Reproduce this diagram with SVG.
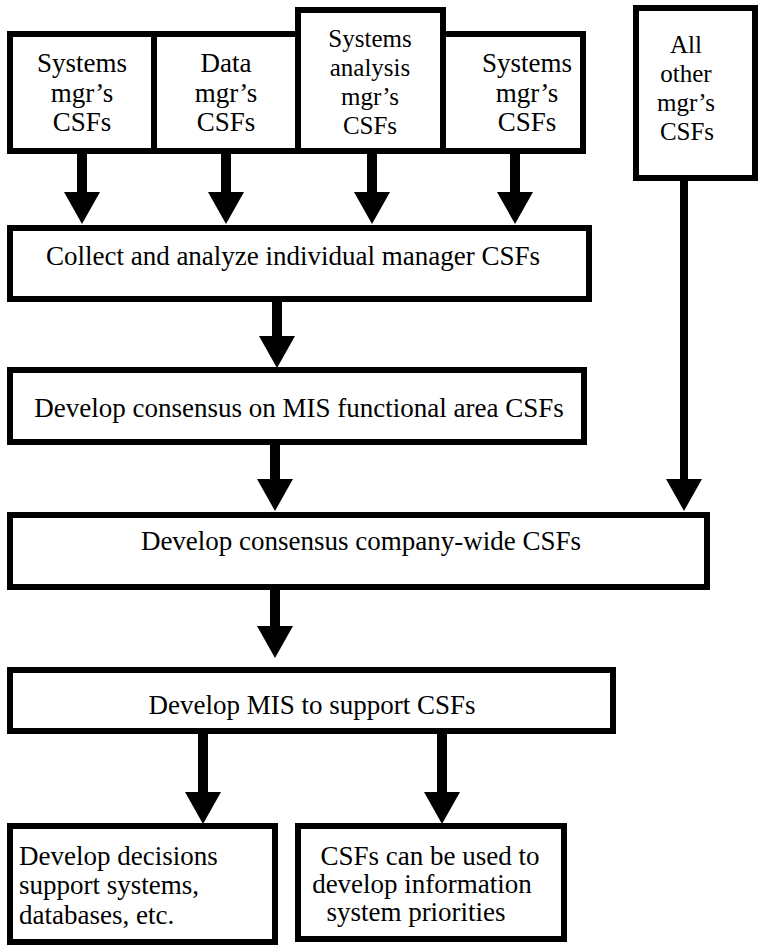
<svg xmlns="http://www.w3.org/2000/svg" width="758" height="946" viewBox="0 0 758 946">
  <style>
    .box { fill: #ffffff; stroke: #000000; stroke-width: 6; }
    .lbl { font-family: "Liberation Serif", "Times New Roman", serif; font-size: 27px; fill: #000000; }
    .tight { font-size: 25px; }
    .mid { text-anchor: middle; }
    .shaft { stroke: #000000; stroke-width: 10; fill: none; }
    .thin { stroke-width: 8; }
  </style>
  <defs>
    <!-- filled triangular head; the shaft stops at the head's base -->
    <marker id="head" markerUnits="userSpaceOnUse" viewBox="0 0 32 36" markerWidth="32" markerHeight="36" refX="0" refY="18" orient="auto">
      <path d="M0,0 L32,18 L0,36 Z" fill="#000000"/>
    </marker>
  </defs>
  <rect width="758" height="946" fill="#ffffff"/>

  <!-- top row: managers' CSFs -->
  <g id="systems-mgr-1">
    <rect class="box" x="10" y="34" width="144" height="117"/>
    <text class="lbl mid" x="82" y="72">Systems</text>
    <text class="lbl mid" x="82" y="102">mgr’s</text>
    <text class="lbl mid" x="82" y="131">CSFs</text>
  </g>
  <g id="data-mgr">
    <rect class="box" x="154" y="34" width="144" height="117"/>
    <text class="lbl mid" x="226" y="72">Data</text>
    <text class="lbl mid" x="226" y="102">mgr’s</text>
    <text class="lbl mid" x="226" y="131">CSFs</text>
  </g>
  <g id="systems-analysis-mgr">
    <rect class="box" x="298" y="10" width="145" height="141"/>
    <text class="lbl tight mid" x="370" y="47">Systems</text>
    <text class="lbl tight mid" x="370" y="76">analysis</text>
    <text class="lbl tight mid" x="370" y="105">mgr’s</text>
    <text class="lbl tight mid" x="370" y="134">CSFs</text>
  </g>
  <g id="systems-mgr-2">
    <rect class="box" x="443" y="34" width="140" height="117"/>
    <text class="lbl mid" x="527" y="72">Systems</text>
    <text class="lbl mid" x="527" y="102">mgr’s</text>
    <text class="lbl mid" x="527" y="131">CSFs</text>
  </g>
  <g id="other-mgrs">
    <rect class="box" x="636" y="8" width="119" height="170"/>
    <text class="lbl tight mid" x="686" y="53">All</text>
    <text class="lbl tight mid" x="686" y="82">other</text>
    <text class="lbl tight mid" x="686" y="111">mgr’s</text>
    <text class="lbl tight mid" x="687" y="140">CSFs</text>
  </g>

  <!-- process steps -->
  <g id="collect">
    <rect class="box" x="10" y="228" width="579" height="71"/>
    <text class="lbl mid" x="293" y="265">Collect and analyze individual manager CSFs</text>
  </g>
  <g id="mis-area">
    <rect class="box" x="10" y="370" width="574" height="72"/>
    <text class="lbl mid" x="299" y="417">Develop consensus on MIS functional area CSFs</text>
  </g>
  <g id="company-wide">
    <rect class="box" x="10" y="515" width="697" height="72"/>
    <text class="lbl mid" x="361" y="550">Develop consensus company-wide CSFs</text>
  </g>
  <g id="develop-mis">
    <rect class="box" x="10" y="670" width="603" height="61"/>
    <text class="lbl mid" x="312" y="714">Develop MIS to support CSFs</text>
  </g>

  <!-- outcomes -->
  <g id="dss">
    <rect class="box" x="10" y="826" width="265" height="116"/>
    <text class="lbl" x="19" y="865">Develop decisions</text>
    <text class="lbl" x="19" y="894">support systems,</text>
    <text class="lbl" x="19" y="924">databases, etc.</text>
  </g>
  <g id="priorities">
    <rect class="box" x="298" y="826" width="266" height="113"/>
    <text class="lbl mid" x="430" y="865">CSFs can be used to</text>
    <text class="lbl mid" x="422" y="893">develop information</text>
    <text class="lbl mid" x="416" y="921">system priorities</text>
  </g>

  <!-- connectors -->
  <g id="connectors">
    <line class="shaft" x1="82" y1="154" x2="82" y2="192" marker-end="url(#head)"/>
    <line class="shaft" x1="226" y1="154" x2="226" y2="192" marker-end="url(#head)"/>
    <line class="shaft" x1="372" y1="154" x2="372" y2="192" marker-end="url(#head)"/>
    <line class="shaft" x1="515" y1="154" x2="515" y2="192" marker-end="url(#head)"/>
    <line class="shaft" x1="277" y1="302" x2="277" y2="336" marker-end="url(#head)"/>
    <line class="shaft" x1="275" y1="445" x2="275" y2="479" marker-end="url(#head)"/>
    <line class="shaft thin" x1="684" y1="181" x2="684" y2="479" marker-end="url(#head)"/>
    <line class="shaft" x1="275" y1="590" x2="275" y2="626" marker-end="url(#head)"/>
    <line class="shaft" x1="203" y1="734" x2="203" y2="792" marker-end="url(#head)"/>
    <line class="shaft" x1="442" y1="734" x2="442" y2="792" marker-end="url(#head)"/>
  </g>
</svg>
